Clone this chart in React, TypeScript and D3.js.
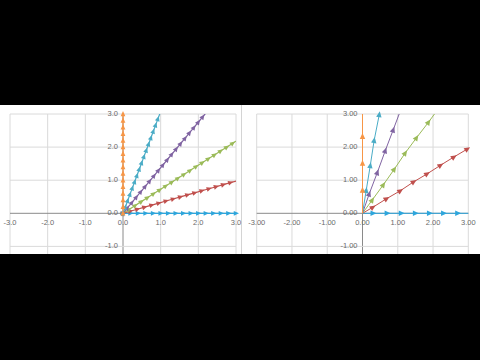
import React from 'react';
import * as d3 from 'd3';

// tick values shared by both panels
const xTicks = [-3, -2, -1, 0, 1, 2, 3];
const yTicks = [-1, 0, 1, 2, 3];

// left panel: rays from the origin, one marker every 0.2 along the ray
const leftRadii = [0, 0.2, 0.4, 0.6, 0.8, 1.0, 1.2, 1.4, 1.6, 1.8, 2.0, 2.2, 2.4, 2.6, 2.8, 3.0, 3.2, 3.4, 3.6, 3.8];
const leftAngles = [0, 18, 36, 54, 72, 90];

// right panel: sparse points
const rightBlueX = [0, 0.3, 0.7, 1.1, 1.5, 1.9, 2.3, 2.7, 3.1];
const rightBlueY = [0, 0, 0, 0, 0, 0, 0, 0, 0];
const rightRedX = [0, 0.29, 0.68, 1.07, 1.45, 1.83, 2.21, 2.59, 2.97];
const rightRedY = [0, 0.18, 0.44, 0.68, 0.95, 1.19, 1.45, 1.7, 1.94];
const rightGreenX = [0, 0.275, 0.59, 0.9, 1.21, 1.53, 1.87, 2.2];
const rightGreenY = [0, 0.4, 0.86, 1.33, 1.82, 2.28, 2.75, 3.23];
const rightPurpleX = [0, 0.19, 0.42, 0.645, 0.87, 1.1];
const rightPurpleY = [0, 0.585, 1.23, 1.89, 2.52, 3.17];
const rightTealX = [0, 0.105, 0.22, 0.33, 0.475];
const rightTealY = [0, 0.69, 1.44, 2.2, 2.98];
const rightOrangeX = [0, 0, 0, 0, 0];
const rightOrangeY = [0, 0.7, 1.51, 2.32, 3.1];

const colors = ['#2ea6dc', '#c0504d', '#9bbb59', '#8064a2', '#4bacc6', '#f79646'];

type Pt = { x: number; y: number };
type Series = { pts: Pt[]; color: string; angle: number; skipFirst: boolean };

const zip = (xs: number[], ys: number[]): Pt[] => xs.map((x, i) => ({ x, y: ys[i] }));

const leftSeries: Series[] = leftAngles.map((a, i) => {
  const rad = (a * Math.PI) / 180;
  return {
    pts: leftRadii.map(r => ({ x: r * Math.cos(rad), y: r * Math.sin(rad) })),
    color: colors[i],
    angle: a,
    skipFirst: false,
  };
});

const rightSeries: Series[] = [
  [rightBlueX, rightBlueY],
  [rightRedX, rightRedY],
  [rightGreenX, rightGreenY],
  [rightPurpleX, rightPurpleY],
  [rightTealX, rightTealY],
  [rightOrangeX, rightOrangeY],
].map(([xs, ys], i) => {
  const last = xs.length - 1;
  return {
    pts: zip(xs, ys),
    color: colors[i],
    angle: (Math.atan2(ys[last], xs[last]) * 180) / Math.PI,
    skipFirst: true,
  };
});

interface PanelProps {
  id: string;
  left: number;
  right: number;
  series: Series[];
  decimals: number;
  marker: number;
  lineWidth: number;
}

const TOP = 114;
const BOTTOM = 254;

const Panel: React.FC<PanelProps> = ({ id, left, right, series, decimals, marker, lineWidth }) => {
  const x = d3.scaleLinear().domain([-3, 3]).range([left, right]);
  const y = d3.scaleLinear().domain([0, 3]).range([213.3, TOP]);
  const line = d3.line<Pt>().x(d => x(d.x)).y(d => y(d.y));
  const fmt = (v: number) => v.toFixed(decimals);
  const s = marker;
  const tri = `M${s},0L${-s * 0.75},${s * 0.8}L${-s * 0.75},${-s * 0.8}Z`;

  return (
    <g>
      <defs>
        <clipPath id={`${id}-clip`}>
          <rect x={x(-3)} y={TOP} width={x(3) - x(-3)} height={BOTTOM - TOP} />
        </clipPath>
        <clipPath id={`${id}-mclip`}>
          <rect x={x(-3) - 4} y={TOP - 4} width={x(3) - x(-3) + 8} height={BOTTOM - TOP + 4} />
        </clipPath>
      </defs>
      {xTicks.map(t => (
        <line key={`gx${t}`} x1={x(t)} x2={x(t)} y1={TOP} y2={BOTTOM}
          stroke={t === 0 ? '#8a8a8a' : '#dadada'} strokeWidth={1} />
      ))}
      {yTicks.map(t => (
        <line key={`gy${t}`} x1={x(-3)} x2={x(3)} y1={y(t)} y2={y(t)}
          stroke={t === 0 ? '#8a8a8a' : '#dadada'} strokeWidth={1} />
      ))}
      {xTicks.map(t => (
        <text key={`lx${t}`} x={x(t)} y={y(0) + 10} textAnchor="middle" dominantBaseline="middle"
          fontSize={7.5} fill="#6a6a6a" fontFamily="Liberation Sans, Arial, sans-serif">{fmt(t)}</text>
      ))}
      {yTicks.map(t => (
        <text key={`ly${t}`} x={x(0) - 5} y={y(t)} textAnchor="end" dominantBaseline="middle"
          fontSize={7.5} fill="#6a6a6a" fontFamily="Liberation Sans, Arial, sans-serif">{fmt(t)}</text>
      ))}
      <g clipPath={`url(#${id}-clip)`}>
        {series.map((sr, i) => (
          <path key={`ln${i}`} d={line(sr.pts) || ''} fill="none" stroke={sr.color} strokeWidth={lineWidth} />
        ))}
      </g>
      <g clipPath={`url(#${id}-mclip)`}>
        {series.map((sr, i) =>
          sr.pts
            .filter((p, j) => !(sr.skipFirst && j === 0))
            .filter(p => p.x <= 3.02 && p.y <= 3.02)
            .map((p, j) => (
              <path key={`m${i}-${j}`} d={tri} fill={sr.color}
                transform={`translate(${x(p.x)},${y(p.y)}) rotate(${-sr.angle})`} />
            ))
        )}
      </g>
    </g>
  );
};

export default function App() {
  return (
    <svg width={480} height={360} style={{ position: 'absolute', left: 0, top: 0 }}>
      <rect width={480} height={360} fill="#000" />
      <rect x={0} y={105} width={480} height={149} fill="#fff" />
      <line x1={241.5} x2={241.5} y1={105} y2={254} stroke="#d4d4d4" />
      <Panel id="l" left={10} right={236} series={leftSeries} decimals={1} marker={3} lineWidth={1.2} />
      <Panel id="r" left={256.7} right={468.3} series={rightSeries} decimals={2} marker={3.4} lineWidth={1} />
      <rect x={0} y={254} width={480} height={106} fill="#000" />
    </svg>
  );
}
